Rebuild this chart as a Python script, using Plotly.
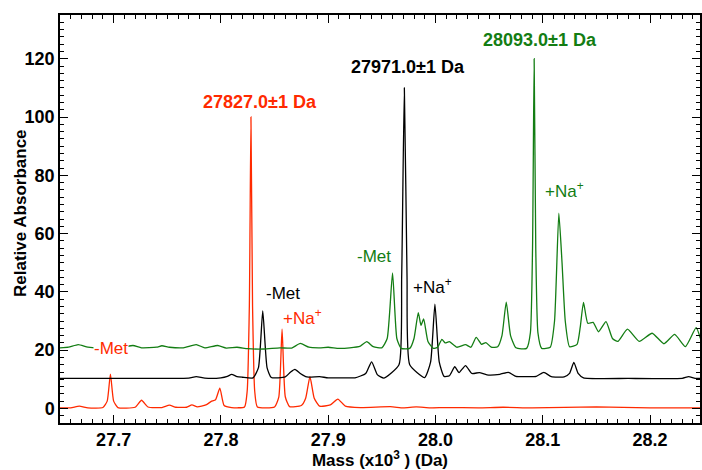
import plotly.graph_objects as go

# ---- data (mass in x10^3 Da, relative absorbance) ----
red_mass = [27.650, 27.660, 27.668, 27.676, 27.690, 27.694, 27.697, 27.700, 27.704,
            27.720, 27.726, 27.732, 27.745, 27.752, 27.758, 27.768, 27.773, 27.778,
            27.786, 27.791, 27.795, 27.799, 27.803, 27.810, 27.822, 27.8245, 27.8265,
            27.828, 27.8295, 27.8315, 27.834, 27.850, 27.854, 27.857, 27.860, 27.864,
            27.875, 27.879, 27.883, 27.887, 27.892, 27.902, 27.909, 27.916, 27.930,
            27.958, 27.970, 27.982, 27.995, 28.010, 28.040, 28.063, 28.090, 28.150,
            28.200, 28.247]
red_abs = [0.2, 0.2, 0.8, 0.2, 0.3, 2.5, 11.8, 2.5, 0.3,
           0.4, 2.8, 0.5, 0.3, 1.1, 0.4, 0.4, 1.2, 0.5,
           1.2, 2.4, 3.0, 7.0, 1.0, 0.3, 0.5, 6.0, 35.0,
           100.0, 35.0, 6.0, 0.5, 0.5, 4.0, 27.2, 4.0, 0.6,
           1.0, 3.5, 10.9, 3.5, 0.8, 1.2, 3.2, 0.8, 0.3,
           0.6, 0.2, 0.5, 0.2, 0.3, 0.2, 0.4, 0.2, 0.5,
           0.2, 0.2]

black_mass = [27.650, 27.700, 27.740, 27.770, 27.777, 27.785, 27.800, 27.806, 27.810,
              27.815, 27.820, 27.830, 27.835, 27.839, 27.843, 27.847, 27.860, 27.865,
              27.869, 27.874, 27.880, 27.892, 27.900, 27.915, 27.925, 27.935, 27.9405,
              27.946, 27.952, 27.966, 27.9685, 27.971, 27.9735, 27.976, 27.990, 27.9955,
              27.9995, 28.0035, 28.008, 28.013, 28.018, 28.022, 28.028, 28.034, 28.041,
              28.048, 28.060, 28.068, 28.075, 28.085, 28.094, 28.101, 28.108, 28.120,
              28.125, 28.129, 28.133, 28.138, 28.180, 28.230, 28.236, 28.242, 28.247]
black_abs = [10.3, 10.3, 10.3, 10.4, 10.9, 10.4, 10.5, 11.0, 11.7,
             10.9, 10.7, 10.5, 14.0, 33.5, 14.0, 10.6, 10.8, 12.5,
             13.4, 12.0, 10.8, 10.9, 10.5, 10.5, 10.5, 12.0, 16.0,
             11.5, 10.4, 15.0, 45.0, 110.0, 45.0, 15.0, 10.6, 16.0,
             35.8, 16.0, 11.0, 11.2, 14.3, 12.3, 14.7, 12.0, 12.3,
             11.5, 11.7, 12.4, 11.0, 10.9, 11.0, 12.4, 10.9, 10.8,
             12.0, 15.8, 12.0, 10.5, 10.3, 10.3, 10.9, 10.3, 10.3]

green_mass = [27.650, 27.658, 27.667, 27.676, 27.690, 27.700, 27.710, 27.718, 27.726,
              27.740, 27.745, 27.752, 27.765, 27.777, 27.785, 27.797, 27.805, 27.815,
              27.825, 27.840, 27.855, 27.866, 27.874, 27.882, 27.892, 27.900, 27.910,
              27.920, 27.930, 27.936, 27.942, 27.950, 27.955, 27.960, 27.964, 27.968,
              27.976, 27.980, 27.984, 27.9865, 27.989, 27.993, 27.998, 28.002, 28.006,
              28.009, 28.013, 28.020, 28.028, 28.033, 28.038, 28.043, 28.047, 28.052,
              28.058, 28.062, 28.066, 28.070, 28.075, 28.085, 28.0885, 28.0905, 28.092,
              28.0935, 28.0955, 28.099, 28.107, 28.111, 28.115, 28.118, 28.121, 28.125,
              28.132, 28.135, 28.138, 28.142, 28.147, 28.152, 28.159, 28.165, 28.170,
              28.179, 28.190, 28.202, 28.213, 28.223, 28.233, 28.243, 28.247]
green_abs = [20.8, 21.0, 21.9, 21.0, 20.6, 20.8, 21.1, 21.6, 20.8,
             21.0, 21.5, 21.0, 20.8, 21.9, 20.8, 21.6, 20.7, 21.0,
             20.5, 20.4, 20.8, 20.7, 22.3, 21.0, 20.8, 21.0, 20.6,
             20.8, 21.4, 22.9, 21.2, 20.8, 24.0, 46.5, 24.0, 20.6,
             20.6, 24.0, 32.9, 28.5, 30.7, 23.0, 20.6, 21.0, 23.7,
             22.5, 22.9, 21.0, 21.9, 21.0, 24.4, 22.0, 22.6, 21.0,
             21.2, 25.0, 36.5, 25.0, 20.8, 20.6, 26.0, 55.0, 120.0,
             55.0, 26.0, 20.6, 21.0, 30.0, 67.0, 50.0, 30.0, 21.2,
             22.0, 28.0, 36.4, 29.2, 29.5, 26.3, 29.8, 24.0, 23.0,
             27.2, 23.0, 25.8, 22.2, 25.4, 21.2, 27.7, 24.0]

x_ticks = [27.7, 27.8, 27.9, 28.0, 28.1, 28.2]
x_tick_labels = ["27.7", "27.8", "27.9", "28.0", "28.1", "28.2"]
y_ticks = [0, 20, 40, 60, 80, 100, 120]

RED = "#ff2a00"
BLACK = "#000000"
GREEN = "#137d13"

fig = go.Figure()
for xs, ys, c in [(red_mass, red_abs, RED), (black_mass, black_abs, BLACK),
                  (green_mass, green_abs, GREEN)]:
    fig.add_trace(go.Scatter(x=xs, y=ys, mode="lines",
                             line=dict(color=c, width=1.3, shape="spline", smoothing=0.5),
                             showlegend=False, hoverinfo="skip"))

FONT = "Liberation Sans, Arial, sans-serif"

def ann(x, y, text, color, bold=False, bg=None):
    t = f"<b>{text}</b>" if bold else text
    d = dict(x=x, y=y, xref="x", yref="y", text=t, showarrow=False,
             font=dict(family=FONT, size=18 if bold else 17, color=color),
             xanchor="center", yanchor="middle", borderpad=0)
    if bg:
        d["bgcolor"] = bg
    fig.add_annotation(**d)

ann(27.8364, 105.2, "27827.0±1 Da", RED, bold=True)
ann(27.9744, 117.2, "27971.0±1 Da", BLACK, bold=True)
ann(28.0972, 126.4, "28093.0±1 Da", GREEN, bold=True)
ann(27.6975, 20.7, "-Met", RED, bg="white")
ann(27.8579, 39.3, "-Met", BLACK)
ann(27.8756, 31.5, "+Na<sup>+</sup>", RED)
ann(27.9427, 52.0, "-Met", GREEN)
ann(27.9972, 42.0, "+Na<sup>+</sup>", BLACK)
ann(28.1207, 75.0, "+Na<sup>+</sup>", GREEN)

# y-axis title (placed as rotated text next to the tick labels)
fig.add_annotation(x=0, y=0.5, xref="paper", yref="paper", xanchor="center",
                   yanchor="middle", xshift=-40, yshift=6, textangle=-90,
                   text="<b>Relative Absorbance</b>", showarrow=False,
                   font=dict(family=FONT, size=17, color="black"))

axis_common = dict(showline=True, linecolor="black", linewidth=1.5, mirror="ticks",
                   ticks="inside", ticklen=8, tickwidth=1.3, tickcolor="black",
                   showgrid=False, zeroline=False, automargin=False,
                   tickfont=dict(family=FONT, size=18, color="black"))

fig.update_xaxes(range=[27.65, 28.2466], tickvals=x_ticks,
                 ticktext=[f"<b>{t}</b>" for t in x_tick_labels],
                 minor=dict(dtick=0.01, tick0=27.65, ticks="inside", ticklen=4,
                            tickwidth=1.2, tickcolor="black"),
                 title=dict(text="<b>Mass (x10<sup>3</sup> ) (Da)</b>",
                            font=dict(family=FONT, size=17, color="black"), standoff=4),
                 **axis_common)
fig.update_yaxes(range=[-5, 135], tickvals=y_ticks,
                 ticktext=[f"<b>{v}</b>" for v in y_ticks],
                 minor=dict(dtick=2.5, tick0=0, ticks="inside", ticklen=4,
                            tickwidth=1.2, tickcolor="black"),
                 **axis_common)

fig.update_layout(width=702, height=470, margin=dict(l=60, r=2, t=15, b=47),
                  plot_bgcolor="white", paper_bgcolor="white",
                  font=dict(family=FONT), hovermode=False)

fig.write_html("out.html", config={"displayModeBar": False},
               post_script="document.body.style.margin='0';document.body.style.overflow='hidden';")
